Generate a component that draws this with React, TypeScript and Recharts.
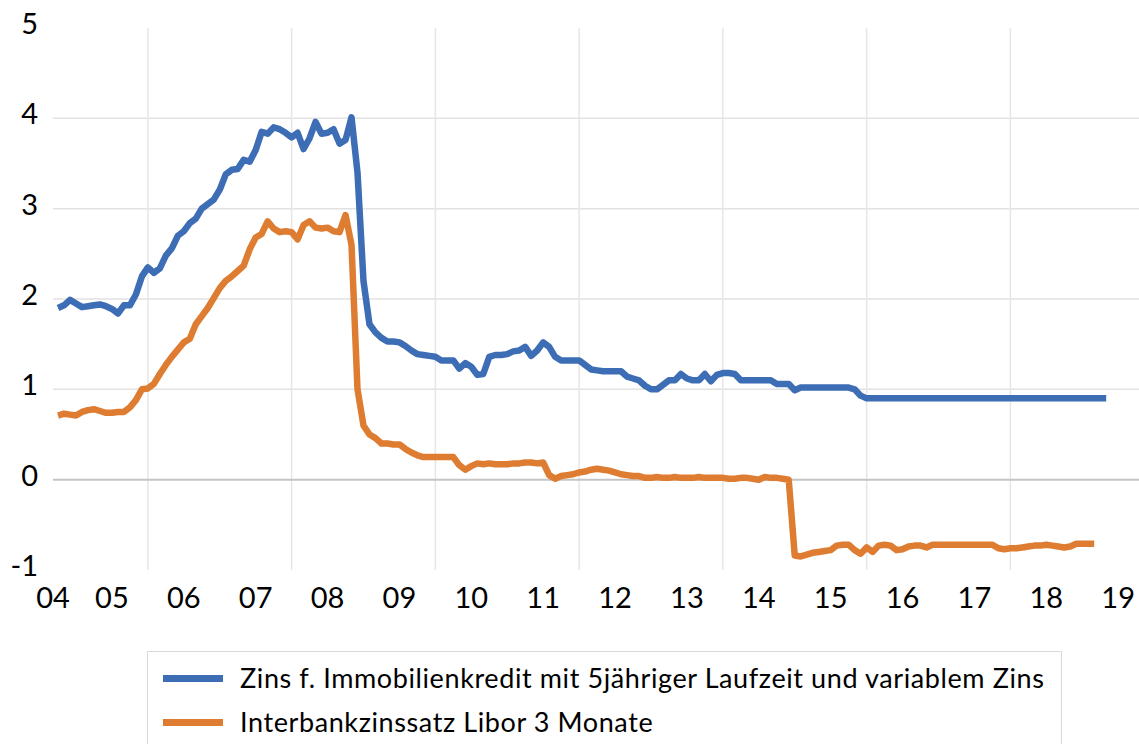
import React from 'react';
import { LineChart, Line, XAxis, YAxis, ReferenceLine } from 'recharts';

// monthly values, first month = April 2004
const START_YEAR = 2004;
const START_MONTH = 4;

const MORTGAGE = [
    1.90, 1.93, 1.99, 1.95, 1.91, 1.92, 1.93, 1.94, 1.92, 1.89, 1.84, 1.93,
    1.93, 2.05, 2.25, 2.35, 2.29, 2.34, 2.48, 2.56, 2.70, 2.75, 2.84, 2.89,
    3.00, 3.05, 3.10, 3.21, 3.38, 3.43, 3.44, 3.54, 3.52, 3.65, 3.85, 3.83,
    3.90, 3.88, 3.84, 3.79, 3.84, 3.66, 3.78, 3.96, 3.83, 3.84, 3.88, 3.72,
    3.76, 4.01, 3.40, 2.20, 1.72, 1.63, 1.57, 1.53, 1.53, 1.52, 1.48, 1.43,
    1.39, 1.38, 1.37, 1.36, 1.32, 1.32, 1.32, 1.23, 1.29, 1.25, 1.16, 1.17,
    1.36, 1.38, 1.38, 1.39, 1.42, 1.43, 1.47, 1.37, 1.43, 1.52, 1.47, 1.36,
    1.32, 1.32, 1.32, 1.32, 1.27, 1.22, 1.21, 1.20, 1.20, 1.20, 1.20, 1.14,
    1.12, 1.10, 1.04, 1.00, 1.00, 1.05, 1.10, 1.10, 1.17, 1.12, 1.10, 1.10,
    1.17, 1.09, 1.16, 1.18, 1.18, 1.17, 1.10, 1.10, 1.10, 1.10, 1.10, 1.10,
    1.06, 1.06, 1.06, 0.99, 1.02, 1.02, 1.02, 1.02, 1.02, 1.02, 1.02, 1.02,
    1.02, 1.00, 0.93, 0.90, 0.90, 0.90, 0.90, 0.90, 0.90, 0.90, 0.90, 0.90,
    0.90, 0.90, 0.90, 0.90, 0.90, 0.90, 0.90, 0.90, 0.90, 0.90, 0.90, 0.90,
    0.90, 0.90, 0.90, 0.90, 0.90, 0.90, 0.90, 0.90, 0.90, 0.90, 0.90, 0.90,
    0.90, 0.90, 0.90, 0.90, 0.90, 0.90, 0.90, 0.90,
];

const LIBOR = [
    0.71, 0.73, 0.72, 0.71, 0.75, 0.77, 0.78, 0.76, 0.74, 0.74, 0.75, 0.75,
    0.80, 0.88, 1.00, 1.01, 1.06, 1.17, 1.27, 1.36, 1.44, 1.52, 1.56, 1.72,
    1.81, 1.90, 2.01, 2.12, 2.20, 2.25, 2.31, 2.37, 2.55, 2.68, 2.72, 2.86,
    2.78, 2.74, 2.75, 2.74, 2.66, 2.82, 2.86, 2.79, 2.78, 2.79, 2.75, 2.74,
    2.93, 2.60, 1.00, 0.60, 0.50, 0.46, 0.40, 0.40, 0.39, 0.39, 0.34, 0.30,
    0.27, 0.25, 0.25, 0.25, 0.25, 0.25, 0.25, 0.16, 0.11, 0.15, 0.18, 0.17,
    0.18, 0.17, 0.17, 0.17, 0.18, 0.18, 0.19, 0.19, 0.18, 0.19, 0.05, 0.01,
    0.04, 0.05, 0.06, 0.08, 0.09, 0.11, 0.12, 0.11, 0.10, 0.08, 0.06, 0.05,
    0.04, 0.04, 0.02, 0.02, 0.03, 0.02, 0.02, 0.03, 0.02, 0.02, 0.02, 0.03,
    0.02, 0.02, 0.02, 0.02, 0.01, 0.01, 0.02, 0.02, 0.01, 0.00, 0.03, 0.02,
    0.02, 0.01, 0.00, -0.84, -0.85, -0.83, -0.81, -0.80, -0.79, -0.78, -0.73, -0.72,
    -0.72, -0.78, -0.82, -0.75, -0.80, -0.73, -0.72, -0.73, -0.78, -0.77, -0.74, -0.73,
    -0.73, -0.75, -0.72, -0.72, -0.72, -0.72, -0.72, -0.72, -0.72, -0.72, -0.72, -0.72,
    -0.72, -0.76, -0.77, -0.76, -0.76, -0.75, -0.74, -0.73, -0.73, -0.72, -0.73, -0.74,
    -0.75, -0.74, -0.71, -0.71, -0.71, -0.71,
];

const YEAR_LABELS = ['04', '05', '06', '07', '08', '09', '10', '11', '12', '13', '14', '15', '16', '17', '18', '19'];
const Y_TICKS = [-1, 0, 1, 2, 3, 4, 5];
const H_GRID = [1, 2, 3, 4];
const V_GRID = [2005.5, 2007.5, 2009.5, 2011.5, 2013.5, 2015.5, 2017.5];
const X_DOMAIN: [number, number] = [2004.18, 2019.29];

const SERIES = [
    { key: 'mortgage', name: 'Zins f. Immobilienkredit mit 5jähriger Laufzeit und variablem Zins', color: '#3d6db5' },
    { key: 'libor', name: 'Interbankzinssatz Libor 3 Monate', color: '#de7d31' },
];

const FONT = 'Lato, "Open Sans", sans-serif';

const data = MORTGAGE.map((v, i) => ({
    t: START_YEAR + (START_MONTH - 1 + i) / 12,
    mortgage: v,
    libor: i < LIBOR.length ? LIBOR[i] : undefined,
}));

// first label sits at the left edge of the plot, the rest at January of each year
const xTicks = YEAR_LABELS.map((l, i) => (i === 0 ? X_DOMAIN[0] : 2000 + parseInt(l, 10)));

const XTick = ({ x, y, index }: any) => (
    <text x={x} y={y} dy={38} textAnchor="middle" fontSize={29} fontFamily={FONT} fill="#000">
        {YEAR_LABELS[index]}
    </text>
);

const YTick = ({ x, y, payload }: any) => (
    <text x={x} y={y} dy={6} textAnchor="end" fontSize={29} fontFamily={FONT} fill="#000">
        {payload.value}
    </text>
);

export default function App() {
    return (
        <div style={{ position: 'relative', width: 1139, height: 744, overflow: 'hidden', background: '#fff' }}>
            <style>{'body { margin: 0; overflow: hidden; }'}</style>
            <LineChart width={1139} height={744} data={data} margin={{ top: 28, right: 0, left: 0, bottom: 134 }}>
                <XAxis
                    dataKey="t"
                    type="number"
                    domain={X_DOMAIN}
                    allowDataOverflow
                    ticks={xTicks}
                    interval={0}
                    tick={<XTick />}
                    tickSize={0}
                    tickMargin={0}
                    axisLine={false}
                    tickLine={false}
                    height={40}
                />
                <YAxis
                    domain={[-1, 5]}
                    ticks={Y_TICKS}
                    interval={0}
                    tick={<YTick />}
                    tickSize={0}
                    tickMargin={15}
                    axisLine={false}
                    tickLine={false}
                    width={53}
                />
                {H_GRID.map(v => (
                    <ReferenceLine key={`h-${v}`} y={v} stroke="#e2e2e2" strokeWidth={1.5} />
                ))}
                {V_GRID.map(v => (
                    <ReferenceLine key={`v-${v}`} x={v} stroke="#e6e6e6" strokeWidth={1.5} />
                ))}
                <ReferenceLine y={0} stroke="#c4c4c4" strokeWidth={2} />
                {SERIES.map(s => (
                    <Line
                        key={s.key}
                        dataKey={s.key}
                        name={s.name}
                        type="linear"
                        stroke={s.color}
                        strokeWidth={6.5}
                        strokeLinejoin="round"
                        dot={false}
                        activeDot={false}
                        isAnimationActive={false}
                    />
                ))}
            </LineChart>
            <div
                style={{
                    position: 'absolute',
                    left: 147,
                    top: 651,
                    width: 915,
                    height: 93,
                    boxSizing: 'border-box',
                    border: '1px solid #d9d9d9',
                    borderBottom: 'none',
                    fontFamily: FONT,
                }}
            >
                {SERIES.map((s, i) => (
                    <div
                        key={s.key}
                        style={{
                            position: 'absolute',
                            left: 15,
                            top: 11 + i * 44,
                            height: 30,
                            display: 'flex',
                            alignItems: 'center',
                            whiteSpace: 'nowrap',
                        }}
                    >
                        <span style={{ display: 'inline-block', width: 60, height: 7, background: s.color }} />
                        <span style={{ marginLeft: 17, fontSize: 27, letterSpacing: 0.6, color: '#000', lineHeight: '30px' }}>
                            {s.name}
                        </span>
                    </div>
                ))}
            </div>
        </div>
    );
}
